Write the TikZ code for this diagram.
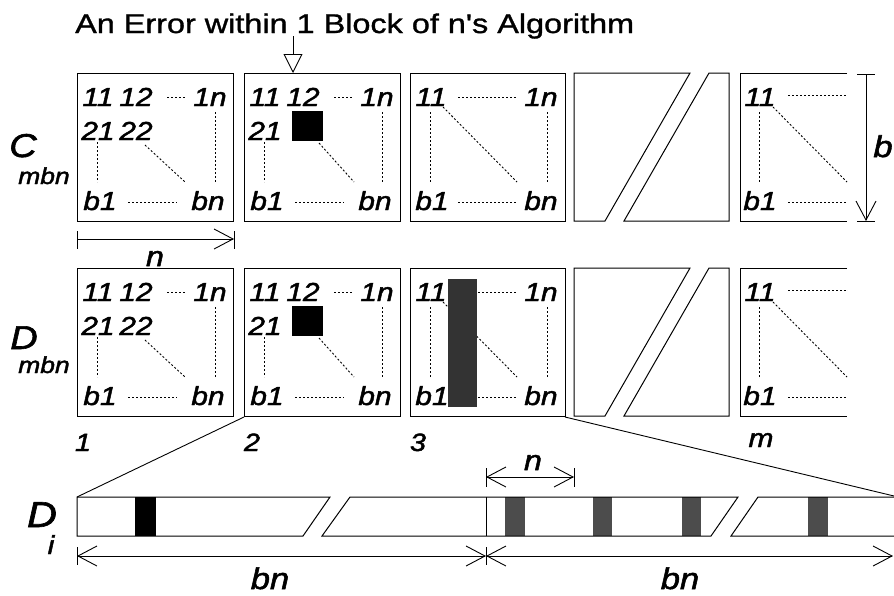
\documentclass[tikz,border=0pt]{standalone}
\usepackage{fontspec}
\newfontfamily\af{Liberation Sans}[FakeStretch=1.2,FakeBold=1.2]
\newfontfamily\afb{Liberation Sans}[FakeStretch=1.15,FakeBold=1.8]
\usetikzlibrary{arrows.meta}
\newcommand\fs[1]{\fontsize{#1}{#1}\selectfont}
\begin{document}
\begin{tikzpicture}[x=1pt,y=-1pt,
  boxline/.style={line width=1pt},
  dots/.style={line width=0.9pt, dash pattern=on 2pt off 2pt},
  cell/.style={font=\afb\itshape\fs{26}, inner sep=0pt, anchor=base},
  lab/.style={font=\afb\itshape\fs{#1}, inner sep=0pt, anchor=base},
  dim/.style={line width=0.9pt},
  dimarrow/.style={-{Straight Barb[length=19pt,width=20pt]}},
  dimboth/.style={{Straight Barb[length=19pt,width=20pt]}-{Straight Barb[length=19pt,width=20pt]}}]
\useasboundingbox (0,0) rectangle (894,595);

% title and error arrow
\node[font=\af\fs{27}, inner sep=0pt, anchor=base west] (title) at (75,33) {An Error within 1 Block of n's Algorithm};
\coordinate (errtop) at (293,36);
\coordinate (errtip) at (293,73);
\draw[line width=0.9pt, -{Triangle[open,length=19pt,width=19pt]}] (errtop) -- (errtip);

% row labels
\node[lab=33] (Cl) at (23,157) {C};
\node[lab=23] (Cs) at (44,184) {mbn};
\node[lab=33] (Dl) at (24,349) {D};
\node[lab=23] (Ds) at (44,373) {mbn};
\node[lab=36] (Dil) at (42,527) {D};
\node[lab=26] (Dis) at (51,554) {i};

% ---------- generic box macros ----------
\newcommand\boxfull[4]{% name, x0, y0, has22
\begin{scope}[shift={(#2,#3)}]
  \draw[boxline] (0,0) rectangle (156,148);
  \node[cell] (#1a) at (21,33) {11};
  \node[cell] (#1b) at (59,33) {12};
  \node[cell] (#1c) at (133,33) {1n};
  \node[cell] (#1d) at (21,67) {21};
  \ifnum#4=1
    \node[cell] (#1e) at (59,67) {22};
    \draw[dots] (68,72) -- (108,109);
  \else
    \fill (48,38) rectangle (79,68);
    \draw[dots] (75,70) -- (110,109);
  \fi
  \node[cell] (#1f) at (23,137) {b1};
  \node[cell] (#1g) at (131,137) {bn};
  \draw[dots] (90,24) -- (108,24);
  \draw[dots] (20,69) -- (20,109);
  \draw[dots] (138,39) -- (138,109);
  \draw[dots] (51,129) -- (100,129);
\end{scope}}

\newcommand\boxthree[4]{% name, x0, y0, shaded
\begin{scope}[shift={(#2,#3)}]
  \draw[boxline] (0,0) rectangle (155,148);
  \node[cell] (#1a) at (21,33) {11};
  \node[cell] (#1c) at (131,33) {1n};
  \node[cell] (#1f) at (22,137) {b1};
  \node[cell] (#1g) at (131,137) {bn};
  \draw[dots] (48,24) -- (107,24);
  \draw[dots] (20,39) -- (20,109);
  \draw[dots] (137,39) -- (137,109);
  \draw[dots] (33,34) -- (107,109);
  \draw[dots] (48,129) -- (107,129);
  \ifnum#4=1
    \fill[black!80] (38,11) rectangle (67,139);
  \fi
\end{scope}}

\newcommand\boxgap[2]{% x-shift dummy, y0
\begin{scope}[shift={(0,#2)}]
  \draw[boxline] (574,0) -- (690,0) -- (605,148) -- (574,148) -- cycle;
  \draw[boxline] (709,0) -- (729,0) -- (729,148) -- (624,148) -- cycle;
\end{scope}}

\newcommand\boxm[2]{% name, y0
\begin{scope}[shift={(740,#2)}]
  \draw[boxline] (107,0) -- (0,0) -- (0,148) -- (107,148);
  \node[cell] (#1a) at (20,33) {11};
  \node[cell] (#1f) at (20,137) {b1};
  \draw[dots] (48,22) -- (107,22);
  \draw[dots] (19,39) -- (19,109);
  \draw[dots] (33,34) -- (107,109);
  \draw[dots] (48,129) -- (107,129);
\end{scope}}

% C row
\boxfull{cA}{77}{73}{1}
\boxfull{cB}{244}{73}{0}
\boxthree{cC}{410}{73}{0}
\boxgap{0}{73}
\boxm{cM}{73}

% D row
\boxfull{dA}{77}{268}{1}
\boxfull{dB}{244}{268}{0}
\boxthree{dC}{410}{268}{1}
\boxgap{0}{268}
\boxm{dM}{268}

% n dimension (C row)
\draw[dim] (77,231) -- (77,249);
\draw[dim] (234,231) -- (234,249);
\draw[dim,dimarrow] (77,239) -- (234,239);
\node[lab=28] (nC) at (155,266) {n};

% b dimension
\draw[dim] (857,74) -- (875,74);
\draw[dim] (857,221) -- (875,221);
\draw[dim,dimarrow] (866,74) -- (866,221);
\node[lab=30] (bl) at (883,157) {b};

% block numbers
\node[lab=25] (n1) at (83,451) {1};
\node[lab=25] (n2) at (252,451) {2};
\node[lab=25] (n3) at (418,451) {3};
\node[lab=26] (nm) at (761,447) {m};

% D_i strip
\coordinate (diTL) at (77,497);
\coordinate (diTR) at (894,496);
\coordinate (dBbl) at (244,417);
\coordinate (dCbr) at (565,417);
\draw[line width=0.9pt] (dBbl) -- (diTL);
\draw[line width=0.9pt] (dCbr) -- (diTR);

\fill (135,497) rectangle (156,536);
\fill[black!70] (505,497) rectangle (525,536);
\fill[black!70] (593,497) rectangle (612,536);
\fill[black!70] (682,497) rectangle (701,536);
\fill[black!70] (808,497) rectangle (828,536);
\draw[boxline] (77,497) -- (330,497) -- (303,536) -- (77,536) -- cycle;
\draw[boxline] (350,497) -- (738,497) -- (711,536) -- (322,536) -- cycle;
\draw[boxline] (900,497) -- (758,497) -- (731,536) -- (900,536);
\draw[boxline] (486,497) -- (486,536);

% n dimension in D_i
\draw[dim] (486,468) -- (486,487);
\draw[dim] (574,468) -- (574,487);
\draw[dim,dimboth] (486,477) -- (574,477);
\node[lab=28] (nD) at (533,470) {n};

% bn dimensions
\draw[dim] (77,547) -- (77,565);
\draw[dim] (486,547) -- (486,565);
\draw[dim,dimboth] (77,556) -- (486,556);
\draw[dim,dimboth] (486,556) -- (893,556);
\node[lab=30] (bn1) at (270,589) {bn};
\node[lab=30] (bn2) at (680,589) {bn};
\end{tikzpicture}
\end{document}
